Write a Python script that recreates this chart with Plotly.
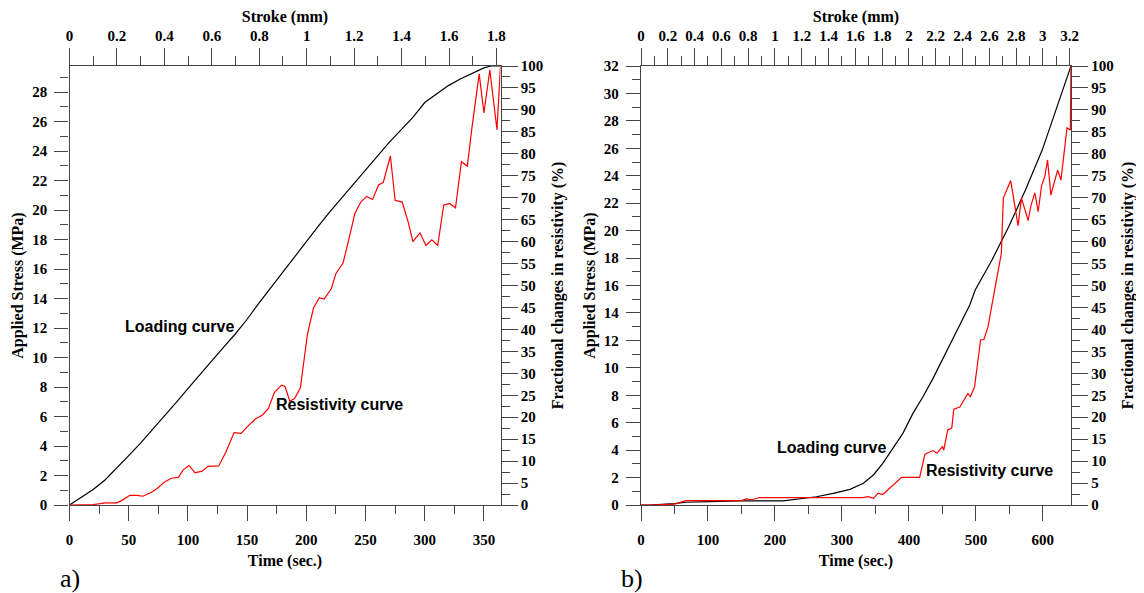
import plotly.graph_objects as go

# --- a) left panel data ---
load_t_a = [0, 10, 20, 30, 40, 50, 60, 70, 80, 90, 100, 110, 120, 130, 140, 150, 160, 170, 180,
            190, 200, 210, 220, 230, 240, 250, 260, 270, 280, 290, 300, 310, 320, 330, 340, 350, 356, 364]
load_s_a = [0, 0.5, 1.05, 1.7, 2.5, 3.35, 4.2, 5.1, 6.0, 6.95, 7.9, 8.85, 9.8, 10.7, 11.6, 12.6, 13.7,
            14.75, 15.8, 16.8, 17.85, 18.9, 19.9, 20.85, 21.8, 22.75, 23.7, 24.6, 25.45, 26.3, 27.3,
            27.9, 28.45, 28.9, 29.3, 29.65, 29.78, 29.78]

res_t_a = [0, 10, 20, 26, 30, 40, 44, 51, 57, 62, 70, 75, 80, 86, 92, 96, 101, 106, 112, 117, 126,
           132, 139, 145, 150, 157, 163, 168, 173, 179, 182, 186, 190, 195, 199, 201, 206, 211, 215,
           221, 225, 231, 235, 241, 246, 251, 256, 261, 265, 271, 275, 281, 286, 290, 296, 301, 306,
           311, 316, 321, 326, 331, 336, 340, 346, 350, 355, 361, 364]
res_r_a = [0, 0, 0.1, 0.3, 0.5, 0.5, 1.0, 2.2, 2.2, 2.0, 3.0, 4.0, 5.2, 6.1, 6.3, 8.0, 9.0, 7.3, 7.7,
           8.8, 8.9, 12.0, 16.5, 16.3, 17.8, 19.6, 20.5, 22.0, 25.6, 27.3, 27.0, 23.7, 24.2, 26.7,
           34.5, 39.0, 44.8, 47.2, 46.9, 49.2, 52.7, 55.1, 59.5, 66.4, 69.0, 70.3, 69.6, 72.9, 73.5,
           79.5, 69.4, 69.0, 64.5, 60.0, 62.0, 59.1, 60.4, 59.1, 68.3, 68.7, 67.7, 78.2, 77.2, 86.2,
           98.2, 89.3, 99.1, 85.5, 100]

# --- b) right panel data ---
load_t_b = [0, 12, 50, 67, 100, 150, 212, 262, 287, 312, 332, 347, 361, 376, 391, 406, 421, 436,
            451, 464, 479, 491, 499, 524, 549, 574, 599, 624, 642]
load_s_b = [0, 0, 0.1, 0.2, 0.25, 0.3, 0.3, 0.6, 0.85, 1.14, 1.58, 2.19, 3.04, 4.13, 5.22, 6.68,
            7.89, 9.23, 10.7, 12.03, 13.4, 14.6, 15.67, 17.86, 20.28, 22.96, 25.87, 29.5, 32.0]

res_t_b = [0, 12, 50, 67, 150, 157, 165, 177, 331, 339, 347, 354, 361, 381, 389, 416, 424, 436,
           442, 450, 452, 458, 464, 467, 476, 488, 492, 498, 507, 512, 518, 528, 538, 541, 552,
           563, 568, 578, 582, 588, 593, 598, 603, 607, 612, 622, 627, 636, 641, 642]
res_r_b = [0, 0, 0.2, 1.0, 1.0, 1.4, 1.2, 1.7, 1.7, 1.9, 1.5, 2.7, 2.4, 5.1, 6.3, 6.3, 11.6, 12.4,
           11.8, 13.3, 12.5, 17.1, 17.5, 21.8, 22.3, 25.4, 24.7, 26.9, 37.6, 37.7, 40.5, 49, 57.3,
           69.9, 73.9, 63.6, 69.9, 64.8, 68.1, 71.1, 66.8, 72.7, 74.9, 78.6, 70.6, 76.3, 74, 85.9,
           85.4, 100]

# page body has an 8px margin, so the figure sits at (8, 8)
OFF = 8
W, H = 1144 - OFF, 593 - OFF


def px_x(x):
    return (x - OFF) / W


def px_y(y):
    return (H - (y - OFF)) / H


dom_xa = [px_x(69.5), px_x(500.5)]
dom_xb = [px_x(641), px_x(1071)]
dom_y = [px_y(505), px_y(66)]

serif = "Liberation Serif"
tick_font = dict(family=serif, size=15, color="black", weight="bold")
title_font = dict(family=serif, size=16, color="black", weight="bold")
axcol = "#444444"


def axis_style(dtick, minor_dtick, rng, title="", ticklen=15, minorlen=8, standoff=4, labelgap=0):
    return dict(
        range=rng, dtick=dtick, tick0=0, ticks="outside", ticklen=ticklen, tickwidth=1.2,
        tickcolor=axcol, showline=True, linecolor=axcol, linewidth=1.3, showgrid=False,
        zeroline=False, tickfont=tick_font, fixedrange=True, automargin=False,
        ticklabelstandoff=labelgap,
        minor=dict(dtick=minor_dtick, tick0=0, ticks="outside", ticklen=minorlen,
                   tickwidth=1.2, tickcolor=axcol, showgrid=False),
        title=dict(text=title, font=title_font, standoff=standoff),
    )


fig = go.Figure()

line_black = dict(color="black", width=1.2)
line_red = dict(color="#ff0000", width=1.2)

fig.add_trace(go.Scatter(x=load_t_a, y=load_s_a, mode="lines", line=line_black,
                         xaxis="x", yaxis="y", showlegend=False))
fig.add_trace(go.Scatter(x=res_t_a, y=res_r_a, mode="lines", line=line_red,
                         xaxis="x", yaxis="y2", showlegend=False))
fig.add_trace(go.Scatter(x=load_t_b, y=load_s_b, mode="lines", line=line_black,
                         xaxis="x3", yaxis="y3", showlegend=False))
fig.add_trace(go.Scatter(x=res_t_b, y=res_r_b, mode="lines", line=line_red,
                         xaxis="x3", yaxis="y4", showlegend=False))
# invisible traces so the stroke axes render
fig.add_trace(go.Scatter(x=[0], y=[0], mode="markers", opacity=0, xaxis="x2", yaxis="y",
                         showlegend=False, hoverinfo="skip"))
fig.add_trace(go.Scatter(x=[0], y=[0], mode="markers", opacity=0, xaxis="x4", yaxis="y3",
                         showlegend=False, hoverinfo="skip"))

fig.update_layout(
    width=W, height=H,
    margin=dict(l=0, r=0, t=0, b=0, autoexpand=False),
    paper_bgcolor="white", plot_bgcolor="white",
    xaxis=dict(domain=dom_xa, anchor="y", side="bottom",
               **axis_style(50, 25, [0, 364], "Time (sec.)", standoff=7, labelgap=6)),
    yaxis=dict(domain=dom_y, anchor="x", side="left",
               **axis_style(2, 1, [0, 29.78], "Applied Stress (MPa)", ticklen=14, labelgap=4)),
    yaxis2=dict(overlaying="y", anchor="x", side="right",
                **axis_style(5, 2.5, [0, 100], "Fractional changes in resistivity (%)",
                             ticklen=16, standoff=9)),
    xaxis2=dict(overlaying="x", anchor="y", side="top",
                **axis_style(0.2, 0.1, [0, 1.817], "Stroke (mm)", ticklen=17, minorlen=9,
                             standoff=1, labelgap=1)),
    xaxis3=dict(domain=dom_xb, anchor="y3", side="bottom",
                **axis_style(100, 50, [0, 642], "Time (sec.)", standoff=7, labelgap=6)),
    yaxis3=dict(domain=dom_y, anchor="x3", side="left",
                **axis_style(2, 1, [0, 32], "Applied Stress (MPa)", ticklen=14, labelgap=4)),
    yaxis4=dict(overlaying="y3", anchor="x3", side="right",
                **axis_style(5, 2.5, [0, 100], "Fractional changes in resistivity (%)",
                             ticklen=16, standoff=9)),
    xaxis4=dict(overlaying="x3", anchor="y3", side="top",
                **axis_style(0.2, 0.1, [0, 3.21], "Stroke (mm)", ticklen=17, minorlen=9,
                             standoff=1, labelgap=1)),
)

ann_font = dict(family="Liberation Sans", size=16, color="black", weight="bold")
fig.add_annotation(x=93, y=12.1, xref="x", yref="y", text="Loading curve",
                   showarrow=False, font=ann_font)
fig.add_annotation(x=228, y=6.8, xref="x", yref="y", text="Resistivity curve",
                   showarrow=False, font=ann_font)
fig.add_annotation(x=284, y=4.2, xref="x3", yref="y3", text="Loading curve",
                   showarrow=False, font=ann_font)
fig.add_annotation(x=521, y=2.5, xref="x3", yref="y3", text="Resistivity curve",
                   showarrow=False, font=ann_font)

panel_font = dict(family=serif, size=26, color="black")
fig.add_annotation(x=px_x(70), y=px_y(578), xref="paper", yref="paper", text="a)",
                   xanchor="center", yanchor="middle", showarrow=False, font=panel_font)
fig.add_annotation(x=px_x(632), y=px_y(578), xref="paper", yref="paper", text="b)",
                   xanchor="center", yanchor="middle", showarrow=False, font=panel_font)

fig.write_html("out.html")
